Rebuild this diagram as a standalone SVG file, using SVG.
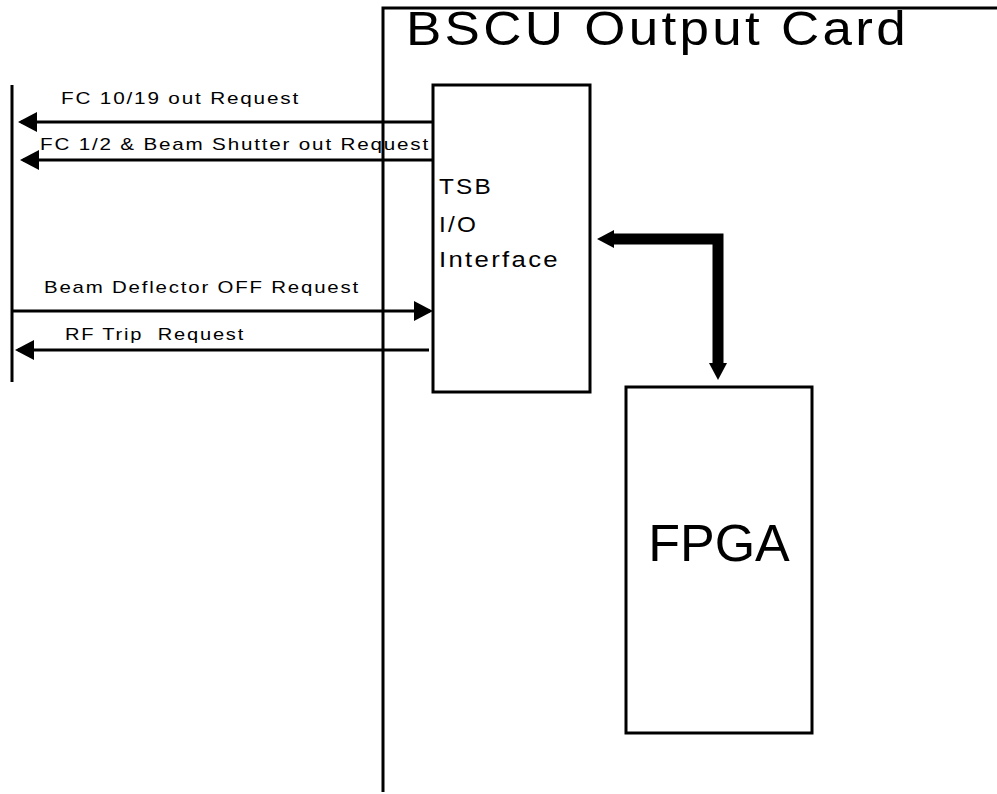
<svg xmlns="http://www.w3.org/2000/svg" width="997" height="794" viewBox="0 0 997 794">
<style>
text{font-family:"Liberation Sans",Arial,sans-serif;fill:#000;white-space:pre}
.lbl{font-size:17px;letter-spacing:1.5px}
.io{font-size:22px;letter-spacing:2px}
.ln{stroke:#000;stroke-width:3;fill:none}
.box{stroke:#000;stroke-width:3;fill:#fff}
</style>
<defs>
<marker id="ah" markerUnits="userSpaceOnUse" markerWidth="19" markerHeight="20" refX="16" refY="10" orient="auto"><path d="M0,0 L19,10 L0,20 z" fill="#000"/></marker>
<marker id="bh" markerUnits="userSpaceOnUse" markerWidth="18" markerHeight="18" refX="0" refY="9" orient="auto-start-reverse"><path d="M0,0 L17,9 L0,18 z" fill="#000"/></marker>
</defs>
<rect width="997" height="794" fill="#fff"/>
<g id="card">
<path class="ln" d="M383,792 V8 H997"/>
<text x="406" y="45" font-size="48" letter-spacing="3" textLength="503" lengthAdjust="spacingAndGlyphs">BSCU Output Card</text>
</g>
<g id="external-bus">
<path class="ln" d="M12,85 V382"/>
</g>
<g id="tsb">
<rect class="box" x="433" y="85" width="157" height="307"/>
<text class="io" x="439" y="194" textLength="54" lengthAdjust="spacingAndGlyphs">TSB</text>
<text class="io" x="439" y="232" textLength="39" lengthAdjust="spacingAndGlyphs">I/O</text>
<text class="io" x="439" y="267" textLength="121" lengthAdjust="spacingAndGlyphs">Interface</text>
</g>
<g id="fpga">
<rect class="box" x="626" y="387" width="186" height="346"/>
<text x="719" y="561" font-size="52" text-anchor="middle">FPGA</text>
</g>
<g id="connectors">
<path class="ln" d="M432,122 H21" marker-end="url(#ah)"/>
<path class="ln" d="M432,160 H23" marker-end="url(#ah)"/>
<path class="ln" d="M12,311 H430" marker-end="url(#ah)"/>
<path class="ln" d="M429,350 H18" marker-end="url(#ah)"/>
<path d="M614,239 H718 V363" stroke="#000" stroke-width="11" fill="none" stroke-linejoin="miter" marker-start="url(#bh)" marker-end="url(#bh)"/>
<text class="lbl" x="61" y="104" textLength="239" lengthAdjust="spacingAndGlyphs">FC 10/19 out Request</text>
<text class="lbl" x="40" y="150" textLength="390" lengthAdjust="spacingAndGlyphs">FC 1/2 &amp; Beam Shutter out Request</text>
<text class="lbl" x="44" y="293" textLength="316" lengthAdjust="spacingAndGlyphs">Beam Deflector OFF Request</text>
<text class="lbl" x="65" y="340" textLength="180" lengthAdjust="spacingAndGlyphs">RF Trip  Request</text>
</g>
</svg>
